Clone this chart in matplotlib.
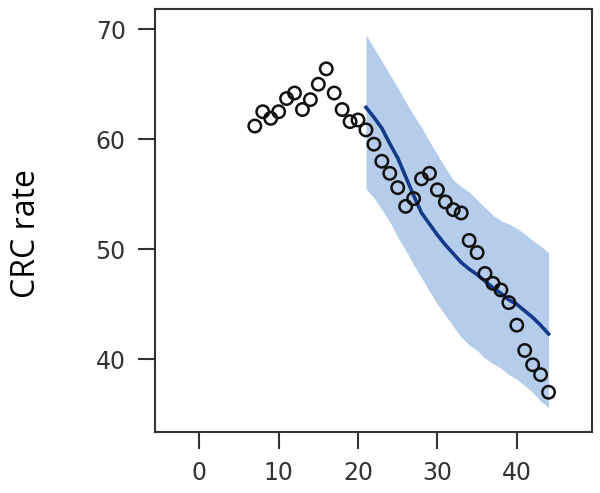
import matplotlib
matplotlib.use("Agg")
import matplotlib.pyplot as plt

# Observed CRC rates by year index
obs_x = list(range(7, 45))
obs_y = [61.2, 62.5, 61.9, 62.5, 63.7, 64.2, 62.7, 63.6, 65.0, 66.4,
         64.2, 62.7, 61.6, 61.75, 60.85, 59.55, 58.0, 56.9, 55.6, 53.9,
         54.6, 56.4, 56.9, 55.4, 54.3, 53.6, 53.3, 50.8, 49.7, 47.8,
         46.9, 46.3, 45.15, 43.1, 40.8, 39.5, 38.6, 37.0]

# Fitted line and interval
fit_x = list(range(21, 45))
fit_y = [62.9, 62.0, 61.0, 59.6, 58.3, 56.6, 54.9, 53.3, 52.3, 51.3,
         50.4, 49.6, 48.8, 48.2, 47.7, 47.1, 46.5, 46.0, 45.4, 45.0,
         44.4, 43.8, 43.1, 42.3]
upper = [69.5, 68.3, 67.1, 65.9, 64.7, 63.4, 62.2, 61.1, 59.8, 58.6,
         57.4, 56.3, 55.7, 55.2, 54.5, 53.8, 53.1, 52.6, 52.3, 51.9,
         51.4, 50.8, 50.3, 49.7]
lower = [55.5, 54.7, 53.6, 52.5, 51.1, 49.9, 48.6, 47.4, 46.2, 45.0,
         44.0, 43.0, 42.0, 41.3, 40.8, 40.1, 39.6, 39.2, 38.6, 38.2,
         37.6, 37.0, 36.2, 35.6]

xticks = [0, 10, 20, 30, 40]
yticks = [40, 50, 60, 70]

fig = plt.figure(figsize=(6.0, 4.93), dpi=100)
ax = fig.add_axes([0.258, 0.124, 0.729, 0.858])

ax.fill_between(fit_x, lower, upper, color="#b5cdeb", linewidth=0, zorder=1)
ax.plot(fit_x, fit_y, color="#123a88", linewidth=2.6, zorder=2)
ax.scatter(obs_x, obs_y, s=80, facecolors="none", edgecolors="#111111",
           linewidths=1.8, zorder=3)

ax.set_xlim(-5.6, 49.5)
ax.set_ylim(33.4, 71.85)
ax.set_xticks(xticks)
ax.set_yticks(yticks)
for s in ax.spines.values():
    s.set_linewidth(1.5)
    s.set_color("#333333")
ax.tick_params(axis="both", length=12, width=1.5, color="#333333",
               labelsize=17, labelcolor="#333333", pad=9)
ax.set_ylabel("CRC rate", fontsize=23, family=["Open Sans", "DejaVu Sans"])
ax.yaxis.set_label_coords(-0.255, 0.468)

fig.savefig("out.png", dpi=100)
